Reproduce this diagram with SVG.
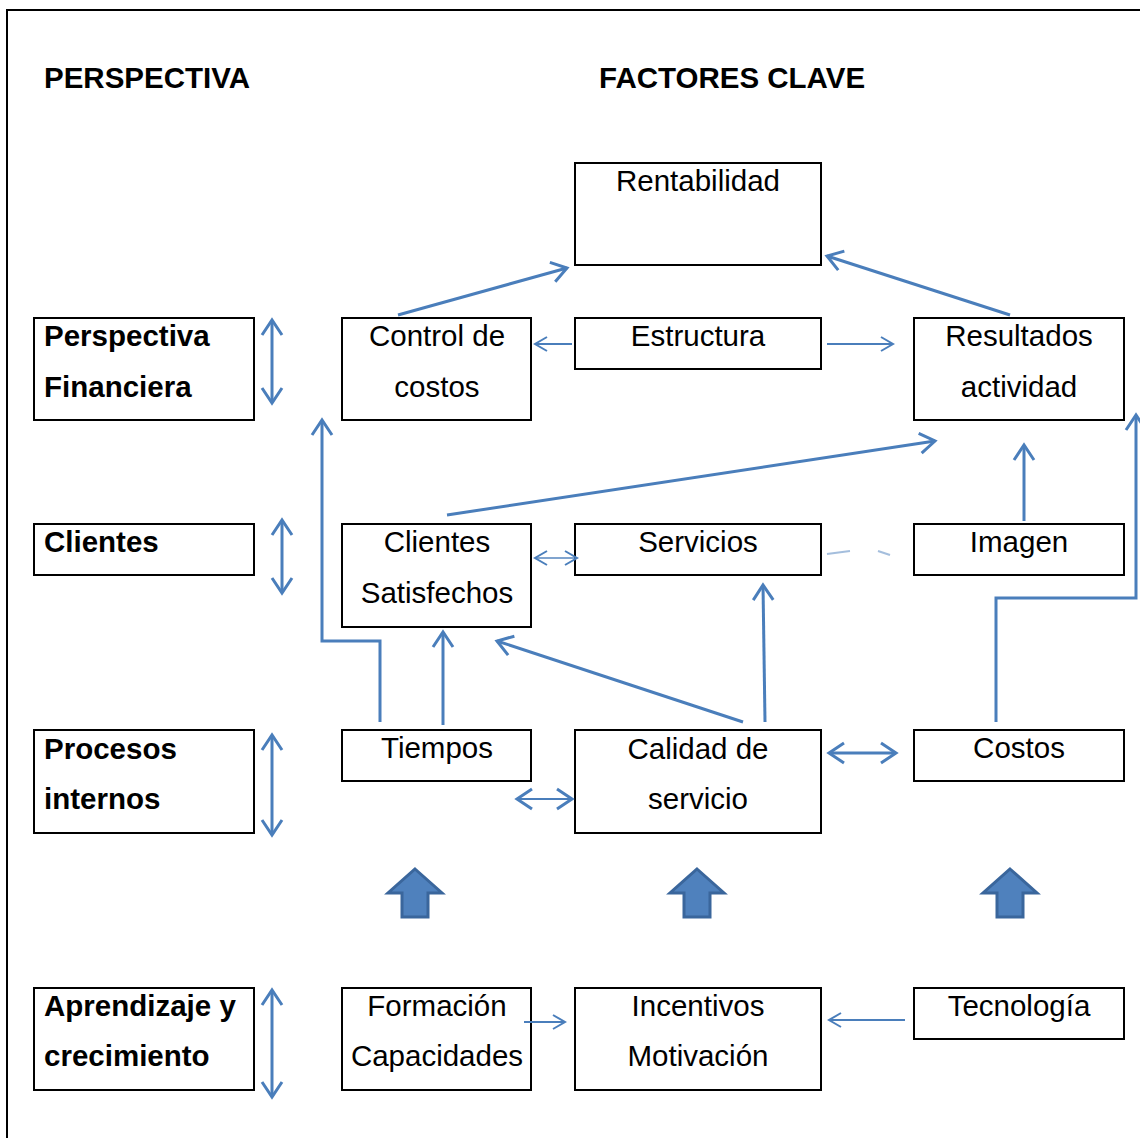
<svg xmlns="http://www.w3.org/2000/svg" width="1140" height="1138" viewBox="0 0 1140 1138">
<defs>
<style>
.b{fill:#fff;stroke:#000;stroke-width:2}
.t{font-family:"Liberation Sans",Arial,sans-serif;font-size:29.5px;fill:#000}
.c{text-anchor:middle}
.h{font-weight:bold}
.l{fill:none;stroke:#4A7EBB;stroke-width:3}
.s{fill:none;stroke:#4A7EBB;stroke-width:2}
.blk{fill:#4F81BD;stroke:#3A669C;stroke-width:3;stroke-linejoin:miter}
</style>
<marker id="a" viewBox="0 0 24 24" refX="20" refY="12" markerWidth="24" markerHeight="24" markerUnits="userSpaceOnUse" orient="auto-start-reverse">
<path d="M5,2 L20,12 L5,22" fill="none" stroke="#4A7EBB" stroke-width="3"/>
</marker>
<marker id="m" viewBox="0 0 20 20" refX="17" refY="10" markerWidth="20" markerHeight="20" markerUnits="userSpaceOnUse" orient="auto-start-reverse">
<path d="M5,3 L17,10 L5,17" fill="none" stroke="#4A7EBB" stroke-width="2"/>
</marker>
</defs>
<rect width="1140" height="1138" fill="#fff"/>
<path d="M7,1138 V10 H1140" fill="none" stroke="#000" stroke-width="2"/>
<text class="t h" x="44" y="88">PERSPECTIVA</text>
<text class="t h" x="599" y="88">FACTORES CLAVE</text>

<g id="n-rent"><rect class="b" x="575" y="163" width="246" height="102"/><text class="t c" x="698" y="191">Rentabilidad</text></g>
<g id="n-pf"><rect class="b" x="34" y="318" width="220" height="102"/><text class="t h" x="44" y="346">Perspectiva</text><text class="t h" x="44" y="397">Financiera</text></g>
<g id="n-cc"><rect class="b" x="342" y="318" width="189" height="102"/><text class="t c" x="437" y="346">Control de</text><text class="t c" x="437" y="397">costos</text></g>
<g id="n-est"><rect class="b" x="575" y="318" width="246" height="51"/><text class="t c" x="698" y="346">Estructura</text></g>
<g id="n-res"><rect class="b" x="914" y="318" width="210" height="102"/><text class="t c" x="1019" y="346">Resultados</text><text class="t c" x="1019" y="397">actividad</text></g>
<g id="n-cli"><rect class="b" x="34" y="524" width="220" height="51"/><text class="t h" x="44" y="552">Clientes</text></g>
<g id="n-cs"><rect class="b" x="342" y="524" width="189" height="103"/><text class="t c" x="437" y="552">Clientes</text><text class="t c" x="437" y="603">Satisfechos</text></g>
<g id="n-ser"><rect class="b" x="575" y="524" width="246" height="51"/><text class="t c" x="698" y="552">Servicios</text></g>
<g id="n-img"><rect class="b" x="914" y="524" width="210" height="51"/><text class="t c" x="1019" y="552">Imagen</text></g>
<g id="n-pi"><rect class="b" x="34" y="730" width="220" height="103"/><text class="t h" x="44" y="759">Procesos</text><text class="t h" x="44" y="809">internos</text></g>
<g id="n-tie"><rect class="b" x="342" y="730" width="189" height="51"/><text class="t c" x="437" y="758">Tiempos</text></g>
<g id="n-cal"><rect class="b" x="575" y="730" width="246" height="103"/><text class="t c" x="698" y="759">Calidad de</text><text class="t c" x="698" y="809">servicio</text></g>
<g id="n-cos"><rect class="b" x="914" y="730" width="210" height="51"/><text class="t c" x="1019" y="758">Costos</text></g>
<g id="n-ap"><rect class="b" x="34" y="988" width="220" height="102"/><text class="t h" x="44" y="1016">Aprendizaje y</text><text class="t h" x="44" y="1066">crecimiento</text></g>
<g id="n-for"><rect class="b" x="342" y="988" width="189" height="102"/><text class="t c" x="437" y="1016">Formación</text><text class="t c" x="437" y="1066">Capacidades</text></g>
<g id="n-inc"><rect class="b" x="575" y="988" width="246" height="102"/><text class="t c" x="698" y="1016">Incentivos</text><text class="t c" x="698" y="1066">Motivación</text></g>
<g id="n-tec"><rect class="b" x="914" y="988" width="210" height="51"/><text class="t c" x="1019" y="1016">Tecnología</text></g>

<g id="connectors">
<line class="l" x1="398" y1="315" x2="567" y2="268" marker-end="url(#a)"/>
<line class="l" x1="1010" y1="315" x2="827" y2="256" marker-end="url(#a)"/>
<line class="s" x1="572" y1="344" x2="535" y2="344" marker-end="url(#m)"/>
<line class="s" x1="827" y1="344" x2="893" y2="344" marker-end="url(#m)"/>
<line class="l" x1="272" y1="320" x2="272" y2="403" marker-start="url(#a)" marker-end="url(#a)"/>
<line class="l" x1="282" y1="520" x2="282" y2="593" marker-start="url(#a)" marker-end="url(#a)"/>
<line class="l" x1="272" y1="735" x2="272" y2="835" marker-start="url(#a)" marker-end="url(#a)"/>
<line class="l" x1="272" y1="990" x2="272" y2="1097" marker-start="url(#a)" marker-end="url(#a)"/>
<line class="l" x1="447" y1="515" x2="935" y2="441" marker-end="url(#a)"/>
<line class="l" x1="1024" y1="521" x2="1024" y2="445" marker-end="url(#a)"/>
<path d="M827,554 L850,551 M878,551 L890,555" fill="none" stroke="#4A7EBB" stroke-width="2" stroke-opacity="0.5"/>
<line class="s" x1="535" y1="558" x2="577" y2="558" stroke-opacity="0.7" marker-start="url(#m)" marker-end="url(#m)"/>
<polyline class="l" points="380,722 380,641 322,641 322,420" marker-end="url(#a)"/>
<line class="l" x1="443" y1="725" x2="443" y2="632" marker-end="url(#a)"/>
<line class="l" x1="743" y1="722" x2="497" y2="641" marker-end="url(#a)"/>
<line class="l" x1="765" y1="722" x2="763" y2="585" marker-end="url(#a)"/>
<polyline class="l" points="996,722 996,598 1136,598 1136,415" marker-end="url(#a)"/>
<line class="l" x1="829" y1="753" x2="896" y2="753" stroke-width="4" marker-start="url(#a)" marker-end="url(#a)"/>
<line class="s" x1="517" y1="799" x2="572" y2="799" marker-start="url(#a)" marker-end="url(#a)"/>
<line class="s" x1="524" y1="1022" x2="565" y2="1022" marker-end="url(#m)"/>
<line class="s" x1="905" y1="1020" x2="829" y2="1020" marker-end="url(#m)"/>
<path class="blk" d="M415,869 L442,893 L428,893 L428,917 L402,917 L402,893 L388,893 Z"/>
<path class="blk" d="M697,869 L724,893 L710,893 L710,917 L684,917 L684,893 L670,893 Z"/>
<path class="blk" d="M1010,869 L1037,893 L1023,893 L1023,917 L997,917 L997,893 L983,893 Z"/>
</g>
</svg>
